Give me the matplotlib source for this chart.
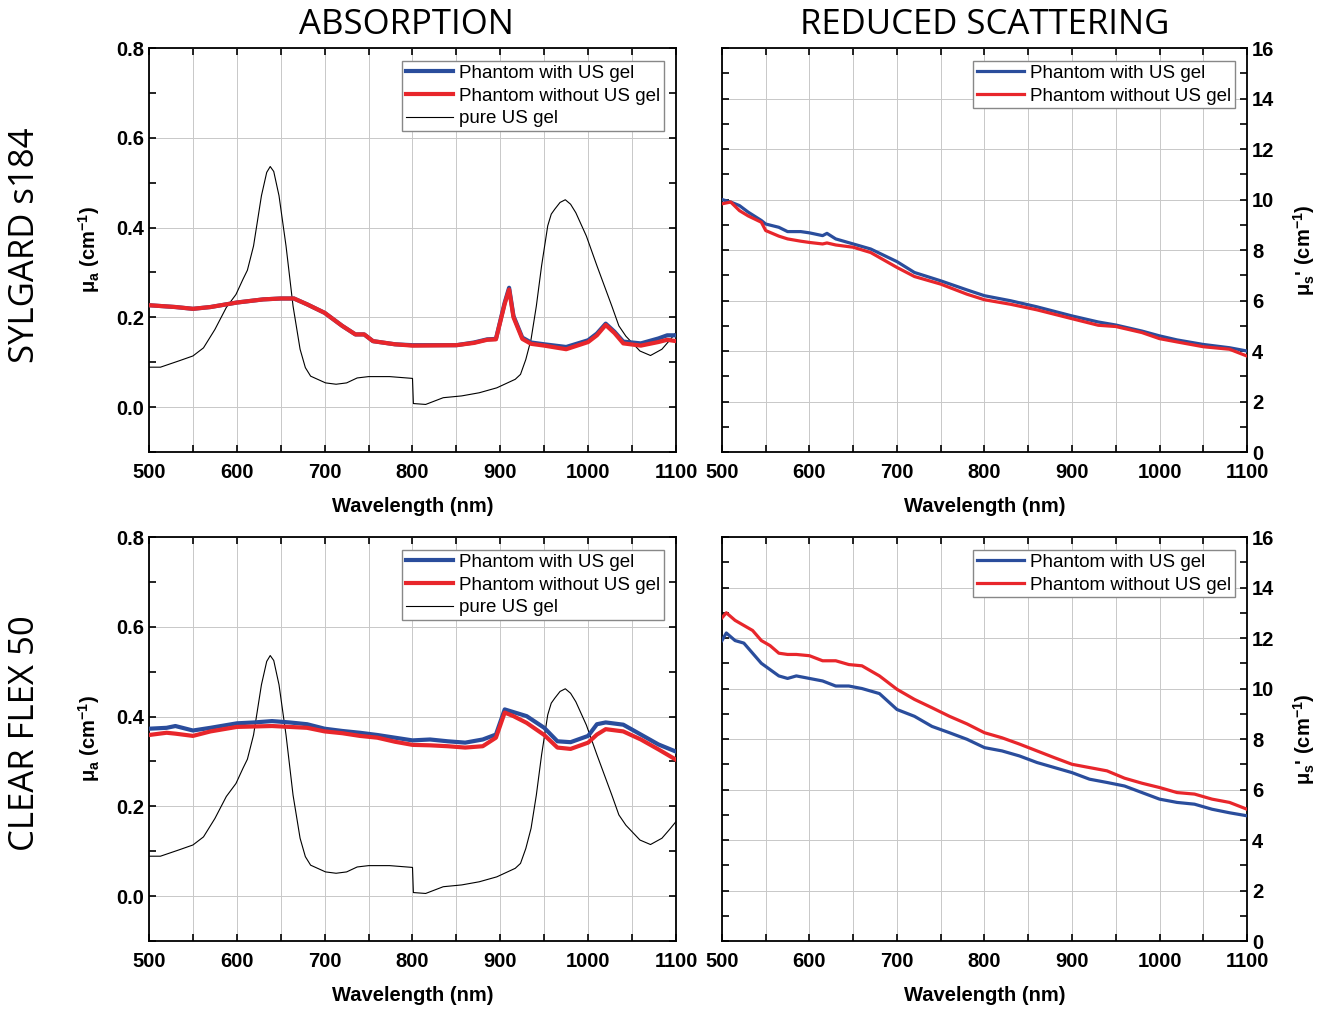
import matplotlib.pyplot as plt
import numpy as np
from matplotlib.ticker import MultipleLocator

plt.rcParams['font.family'] = ['Liberation Sans', 'DejaVu Sans']
plt.rcParams['font.weight'] = 'bold'
plt.rcParams['mathtext.fontset'] = 'custom'
plt.rcParams['mathtext.rm'] = 'Liberation Sans:bold'
plt.rcParams['mathtext.bf'] = 'Liberation Sans:bold'
plt.rcParams['mathtext.default'] = 'bf'

BLUE = '#2a4d9c'
RED = '#e8262b'

# pure ultrasound gel absorption (same in both rows)
wl_gel = [500, 513, 534, 550, 562, 575, 588, 599, 607, 612, 619, 628, 634, 638, 642,
          648, 656, 664, 672, 678, 684, 701, 713, 725, 737, 750, 774, 800, 801, 815,
          835, 856, 876, 896, 917, 923, 929, 935, 941, 947, 954, 958, 962, 968, 974,
          980, 986, 998, 1010, 1027, 1035, 1043, 1059, 1071, 1084, 1092, 1100]
mua_gel = [0.089, 0.089, 0.103, 0.114, 0.132, 0.173, 0.222, 0.251, 0.285, 0.305,
           0.359, 0.471, 0.523, 0.536, 0.525, 0.471, 0.359, 0.225, 0.129, 0.088,
           0.069, 0.054, 0.051, 0.054, 0.065, 0.068, 0.068, 0.064, 0.008, 0.006,
           0.021, 0.025, 0.032, 0.043, 0.062, 0.073, 0.106, 0.151, 0.225, 0.315,
           0.404, 0.430, 0.441, 0.456, 0.462, 0.452, 0.433, 0.381, 0.315, 0.225,
           0.181, 0.158, 0.125, 0.115, 0.129, 0.147, 0.166]

# SYLGARD s184 absorption
wl_abs1 = [500, 530, 550, 570, 600, 630, 650, 665, 680, 700, 720, 735, 745, 755, 780,
           800, 850, 870, 885, 895, 905, 910, 915, 925, 935, 950, 975, 1000, 1010, 1020,
           1030, 1040, 1060, 1080, 1090, 1100]
mua_syl_gel = [0.227, 0.223, 0.219, 0.223, 0.233, 0.240, 0.242, 0.242, 0.229, 0.210,
               0.181, 0.162, 0.162, 0.147, 0.140, 0.138, 0.138, 0.144, 0.151, 0.152,
               0.233, 0.266, 0.203, 0.155, 0.144, 0.140, 0.134, 0.149, 0.164, 0.186,
               0.168, 0.146, 0.142, 0.153, 0.160, 0.160]
mua_syl_nogel = [0.227, 0.223, 0.219, 0.223, 0.233, 0.240, 0.242, 0.242, 0.229, 0.210,
                 0.181, 0.162, 0.162, 0.147, 0.140, 0.137, 0.138, 0.143, 0.150, 0.151,
                 0.230, 0.262, 0.200, 0.152, 0.141, 0.137, 0.129, 0.145, 0.160, 0.183,
                 0.165, 0.142, 0.137, 0.145, 0.150, 0.147]

# SYLGARD s184 reduced scattering
wl_sca1 = [500, 510, 520, 530, 545, 550, 565, 575, 590, 600, 615, 620, 630, 650, 670,
           700, 720, 750, 780, 800, 830, 860, 900, 930, 950, 980, 1000, 1020, 1050,
           1080, 1100]
mus_syl_gel = [10.0, 9.9, 9.76, 9.5, 9.17, 9.03, 8.9, 8.73, 8.73, 8.68, 8.57, 8.66,
               8.44, 8.24, 8.04, 7.54, 7.11, 6.78, 6.42, 6.19, 5.99, 5.75, 5.39, 5.15,
               5.03, 4.79, 4.6, 4.44, 4.26, 4.13, 4.0]
mus_syl_nogel = [9.83, 9.9, 9.56, 9.35, 9.1, 8.77, 8.55, 8.44, 8.35, 8.3, 8.24, 8.28,
                 8.2, 8.11, 7.9, 7.31, 6.95, 6.65, 6.25, 6.03, 5.85, 5.63, 5.28, 5.02,
                 4.97, 4.73, 4.49, 4.36, 4.17, 4.07, 3.8]

# CLEAR FLEX 50 absorption
wl_abs2 = [500, 520, 530, 550, 570, 600, 620, 640, 660, 680, 700, 720, 740, 760, 780,
           800, 820, 840, 860, 880, 895, 905, 915, 930, 950, 965, 980, 1000, 1010, 1020,
           1040, 1060, 1080, 1100]
mua_cf_gel = [0.373, 0.375, 0.379, 0.369, 0.375, 0.385, 0.387, 0.390, 0.387, 0.383,
              0.373, 0.368, 0.364, 0.359, 0.353, 0.347, 0.349, 0.345, 0.342, 0.349,
              0.360, 0.416, 0.410, 0.401, 0.375, 0.345, 0.343, 0.357, 0.383, 0.387,
              0.382, 0.360, 0.338, 0.322]
mua_cf_nogel = [0.359, 0.364, 0.362, 0.357, 0.367, 0.377, 0.378, 0.379, 0.377, 0.375,
                0.367, 0.363, 0.357, 0.353, 0.344, 0.337, 0.336, 0.334, 0.331, 0.334,
                0.353, 0.409, 0.401, 0.386, 0.359, 0.331, 0.328, 0.342, 0.360, 0.372,
                0.367, 0.349, 0.327, 0.304]

# CLEAR FLEX 50 reduced scattering
wl_sca2 = [500, 505, 515, 525, 535, 545, 555, 565, 575, 585, 600, 615, 630, 645, 660,
           680, 700, 720, 740, 760, 780, 800, 820, 840, 860, 880, 900, 920, 940, 960,
           980, 1000, 1020, 1040, 1060, 1080, 1100]
mus_cf_gel = [11.9, 12.2, 11.9, 11.8, 11.4, 11.0, 10.75, 10.5, 10.4, 10.5, 10.4, 10.3,
              10.1, 10.1, 10.0, 9.8, 9.17, 8.9, 8.5, 8.25, 7.99, 7.66, 7.53, 7.33, 7.07,
              6.87, 6.67, 6.41, 6.28, 6.14, 5.88, 5.62, 5.49, 5.42, 5.22, 5.08, 4.96]
mus_cf_nogel = [12.8, 13.0, 12.7, 12.5, 12.3, 11.9, 11.7, 11.4, 11.35, 11.35, 11.3,
                11.1, 11.1, 10.95, 10.9, 10.5, 9.97, 9.57, 9.24, 8.9, 8.6, 8.25, 8.05,
                7.8, 7.53, 7.26, 7.0, 6.87, 6.74, 6.45, 6.25, 6.08, 5.88, 5.82, 5.62,
                5.49, 5.22]

labels = ['Phantom with US gel', 'Phantom without US gel', 'pure US gel']


def style_common(ax):
    ax.set_xlim(500, 1100)
    ax.xaxis.set_major_locator(MultipleLocator(100))
    ax.xaxis.set_minor_locator(MultipleLocator(50))
    ax.grid(True, which='both', axis='x', color='#c8c8c8', lw=0.7)
    ax.grid(True, which='major', axis='y', color='#c8c8c8', lw=0.7)
    ax.tick_params(which='both', direction='in', top=True, bottom=True, left=True,
                   right=True, length=5, width=1.2, labelsize=14.5)
    ax.tick_params(axis='x', pad=8)
    for sp in ax.spines.values():
        sp.set_linewidth(1.3)
    ax.set_xlabel('Wavelength (nm)', fontsize=14.5, fontweight='bold', labelpad=11)


def style_abs(ax):
    ax.set_ylim(-0.1, 0.8)
    ax.yaxis.set_major_locator(MultipleLocator(0.2))
    ax.yaxis.set_minor_locator(MultipleLocator(0.1))
    ax.yaxis.set_major_formatter(plt.FormatStrFormatter('%.1f'))
    style_common(ax)
    ax.set_ylabel('μ$_a$ (cm$^{-1}$)', fontsize=14.5, fontweight='bold', labelpad=10)


def style_sca(ax):
    ax.set_ylim(0, 16)
    ax.yaxis.set_major_locator(MultipleLocator(2))
    ax.yaxis.set_minor_locator(MultipleLocator(1))
    style_common(ax)
    ax.tick_params(axis='y', labelleft=False, labelright=True)
    ax.yaxis.set_label_position('right')
    ax.set_ylabel("μ$_s$' (cm$^{-1}$)", fontsize=14.5, fontweight='bold', labelpad=12,
                  rotation=90)


def add_legend(ax, width_px, height_px):
    # small offset of the legend box from the top right corner, in pixels
    ax.legend(loc='upper right', bbox_to_anchor=(1 - 12 / width_px, 1 - 13 / height_px),
              borderaxespad=0, prop={'size': 13.5, 'weight': 'normal'}, fancybox=False,
              edgecolor='#888888', framealpha=1, handlelength=2.5, borderpad=0.2,
              labelspacing=0.3, handletextpad=0.35)


fig = plt.figure(figsize=(13.33, 10.11), dpi=100)
ax_a1 = fig.add_axes([0.1118, 0.5529, 0.3953, 0.3996])
ax_s1 = fig.add_axes([0.5416, 0.5529, 0.3939, 0.3996])
ax_a2 = fig.add_axes([0.1118, 0.0692, 0.3953, 0.3996])
ax_s2 = fig.add_axes([0.5416, 0.0692, 0.3939, 0.3996])

for ax, wl, g, ng in [(ax_a1, wl_abs1, mua_syl_gel, mua_syl_nogel),
                      (ax_a2, wl_abs2, mua_cf_gel, mua_cf_nogel)]:
    ax.plot(wl, g, color=BLUE, lw=3.0, label=labels[0], zorder=3)
    ax.plot(wl, ng, color=RED, lw=3.0, label=labels[1], zorder=4)
    ax.plot(wl_gel, mua_gel, color='black', lw=0.8, label=labels[2], zorder=2)
    style_abs(ax)
    add_legend(ax, 527, 404)

for ax, wl, g, ng in [(ax_s1, wl_sca1, mus_syl_gel, mus_syl_nogel),
                      (ax_s2, wl_sca2, mus_cf_gel, mus_cf_nogel)]:
    ax.plot(wl, g, color=BLUE, lw=2.3, label=labels[0], zorder=3)
    ax.plot(wl, ng, color=RED, lw=2.3, label=labels[1], zorder=4)
    style_sca(ax)
    add_legend(ax, 525, 404)

title_font = dict(family=['Open Sans', 'DejaVu Sans'], fontsize=25, fontweight='normal')
fig.text(0.305, 0.975, 'ABSORPTION', ha='center', va='center', **title_font)
fig.text(0.739, 0.975, 'REDUCED SCATTERING', ha='center', va='center', **title_font)
fig.text(0.019, 0.757, 'SYLGARD s184', ha='center', va='center', rotation=90, **title_font)
fig.text(0.019, 0.275, 'CLEAR FLEX 50', ha='center', va='center', rotation=90, **title_font)

fig.savefig('out.png', dpi=100)
